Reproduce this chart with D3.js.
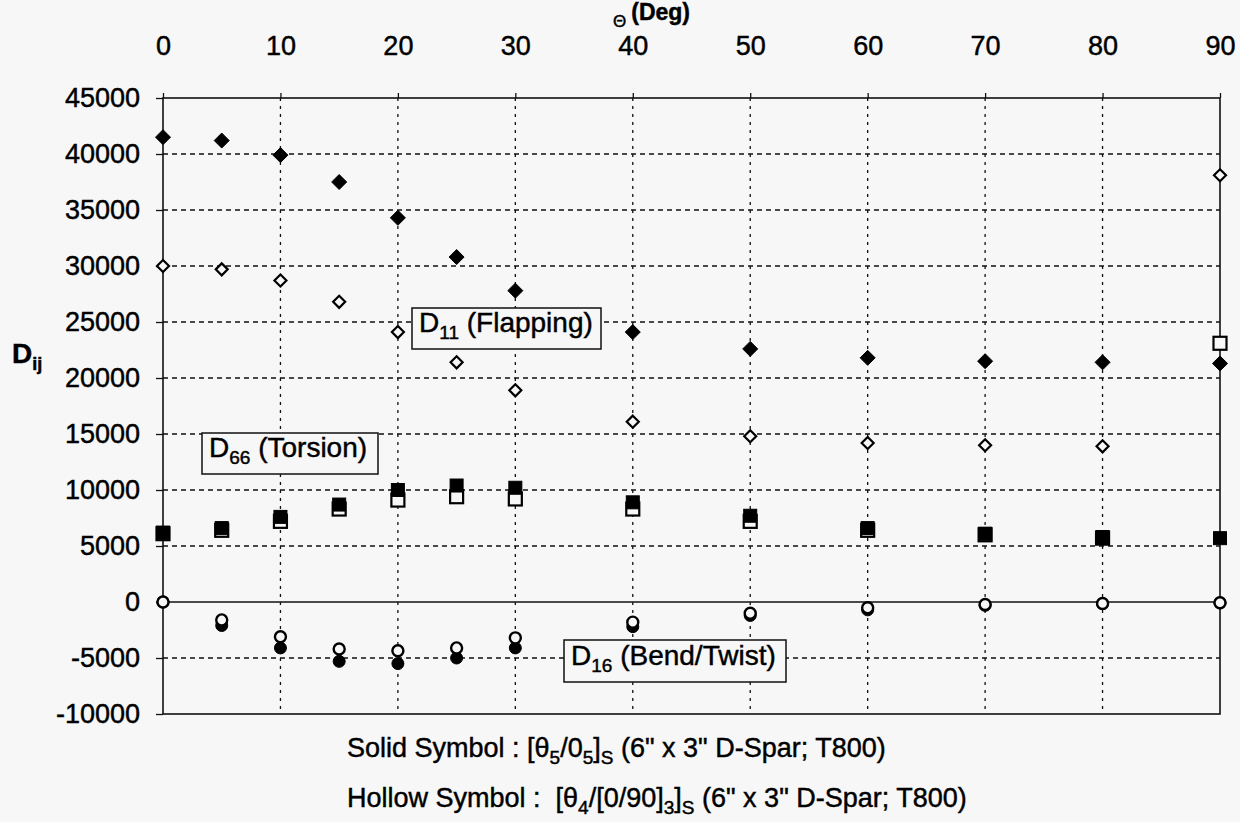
<!DOCTYPE html>
<html>
<head>
<meta charset="utf-8">
<script src="https://cdn.jsdelivr.net/npm/d3@7"></script>
<style>
  html, body { margin: 0; padding: 0; background: #f7f7f7; }
  svg { display: block; font-family: "Liberation Sans", Arial, sans-serif; }
  svg text { white-space: pre; stroke: #000; stroke-width: 0.45px; }
</style>
</head>
<body>
<svg id="chart" width="1240" height="822"></svg>
<script>
// Ply angle (degrees)
const theta = [0, 5, 10, 15, 20, 25, 30, 40, 50, 60, 70, 80, 90];

// Solid symbols: [θ5/05]S layup
const d11Solid = [41500, 41200, 39900, 37500, 34300, 30800, 27800, 24100, 22600, 21800, 21500, 21400, 21300];
const d66Solid = [6200, 6600, 7600, 8700, 10000, 10400, 10200, 8900, 7700, 6600, 6100, 5800, 5700];
const d16Solid = [0, -2100, -4100, -5300, -5500, -5000, -4100, -2200, -1200, -700, -300, -150, -80];

// Hollow symbols: [θ4/[0/90]3]S layup
const d11Hollow = [30000, 29700, 28700, 26800, 24100, 21400, 18900, 16100, 14800, 14200, 14000, 13900, 38100];
const d66Hollow = [6100, 6400, 7200, 8300, 9100, 9400, 9200, 8300, 7200, 6400, 6000, 5700, 23100];
const d16Hollow = [0, -1600, -3100, -4200, -4350, -4100, -3200, -1800, -1000, -520, -220, -130, -70];

const xTicks = [0, 10, 20, 30, 40, 50, 60, 70, 80, 90];
const yTicks = [-10000, -5000, 0, 5000, 10000, 15000, 20000, 25000, 30000, 35000, 40000, 45000];

const BG = "#f7f7f7";
const svg = d3.select("#chart");
svg.append("rect").attr("width", 1240).attr("height", 822).attr("fill", BG);

const plot = { left: 163, right: 1220, top: 98, bottom: 714 };
const x = d3.scaleLinear().domain([0, 90]).range([plot.left, plot.right]);
const y = d3.scaleLinear().domain([-10000, 45000]).range([plot.bottom, plot.top]);

// Grid lines
const grid = svg.append("g").attr("stroke", "#111").attr("stroke-width", 1.3);
grid.selectAll("line.h").data(yTicks.filter(v => v !== 0 && v !== 45000 && v !== -10000)).enter()
  .append("line").attr("class", "h")
  .attr("x1", plot.left).attr("x2", plot.right)
  .attr("y1", d => y(d)).attr("y2", d => y(d))
  .attr("stroke-dasharray", "5,4");
grid.selectAll("line.v").data(xTicks.filter(v => v !== 0 && v !== 90)).enter()
  .append("line").attr("class", "v")
  .attr("y1", plot.top).attr("y2", plot.bottom)
  .attr("x1", d => x(d)).attr("x2", d => x(d))
  .attr("stroke-dasharray", "3,5");

// Zero line and frame
svg.append("line").attr("x1", plot.left).attr("x2", plot.right)
  .attr("y1", y(0)).attr("y2", y(0)).attr("stroke", "#111").attr("stroke-width", 1.6);
svg.append("rect").attr("x", plot.left).attr("y", plot.top)
  .attr("width", plot.right - plot.left).attr("height", plot.bottom - plot.top)
  .attr("fill", "none").attr("stroke", "#111").attr("stroke-width", 1.6);

const plain = d => String(d);

// Left axis
const yAxis = d3.axisLeft(y).tickValues(yTicks).tickSize(7).tickPadding(16).tickFormat(plain);
const gy = svg.append("g").attr("transform", `translate(${plot.left},0)`).call(yAxis);
gy.select(".domain").remove();
gy.selectAll(".tick line").attr("stroke", "#111").attr("stroke-width", 1.3);
gy.selectAll(".tick text").attr("font-size", 27).attr("fill", "#000");

// Top axis
const xAxis = d3.axisTop(x).tickValues(xTicks).tickSize(5).tickPadding(38).tickFormat(plain);
const gx = svg.append("g").attr("transform", `translate(0,${plot.top})`).call(xAxis);
gx.select(".domain").remove();
gx.selectAll(".tick line").attr("stroke", "#111").attr("stroke-width", 1.3);
gx.selectAll(".tick text").attr("font-size", 27).attr("fill", "#000");

// Axis titles
const tTitle = svg.append("text").attr("x", 613).attr("y", 27).attr("fill", "#000");
tTitle.append("tspan").attr("font-size", 17).text("Θ");
tTitle.append("tspan").attr("font-size", 23).attr("font-weight", "bold").attr("dx", 5).attr("dy", -7).text("(Deg)");

const yTitle = svg.append("text").attr("x", 12).attr("y", 363).attr("fill", "#000").attr("font-weight", "bold");
yTitle.append("tspan").attr("font-size", 28).text("D");
yTitle.append("tspan").attr("font-size", 18).attr("dy", 7).text("ij");

// Markers
const pts = (vals) => theta.map((t, i) => ({ t, v: vals[i] }));
function squares(vals, filled) {
  const s = 13;
  svg.append("g").selectAll("rect").data(pts(vals)).enter().append("rect")
    .attr("x", d => x(d.t) - s / 2).attr("y", d => y(d.v) - s / 2)
    .attr("width", s).attr("height", s)
    .attr("fill", filled ? "#000" : BG).attr("stroke", "#000").attr("stroke-width", filled ? 1 : 2.2);
}
function circles(vals, filled) {
  svg.append("g").selectAll("circle").data(pts(vals)).enter().append("circle")
    .attr("cx", d => x(d.t)).attr("cy", d => y(d.v)).attr("r", filled ? 6 : 5.5)
    .attr("fill", filled ? "#000" : BG).attr("stroke", "#000").attr("stroke-width", filled ? 1 : 2.4);
}
function diamonds(vals, filled) {
  const r = filled ? 7.5 : 6;
  svg.append("g").selectAll("path").data(pts(vals)).enter().append("path")
    .attr("d", d => `M${x(d.t)},${y(d.v) - r}L${x(d.t) + r},${y(d.v)}L${x(d.t)},${y(d.v) + r}L${x(d.t) - r},${y(d.v)}Z`)
    .attr("fill", filled ? "#000" : BG).attr("stroke", "#000").attr("stroke-width", filled ? 1 : 2.2);
}

squares(d66Hollow, false);
squares(d66Solid, true);
circles(d16Solid, true);
circles(d16Hollow, false);
diamonds(d11Hollow, false);
diamonds(d11Solid, true);

// Series labels
function boxLabel(bx, by, bw, bh, main, sub, rest) {
  const g = svg.append("g");
  g.append("rect").attr("x", bx).attr("y", by).attr("width", bw).attr("height", bh)
    .attr("fill", BG).attr("stroke", "#111").attr("stroke-width", 1.5);
  const t = g.append("text").attr("x", bx + 7).attr("y", by + bh - 17).attr("font-size", 28).attr("fill", "#000");
  t.append("tspan").text(main);
  t.append("tspan").attr("font-size", 19).attr("dy", 7).text(sub);
  t.append("tspan").attr("dy", -7).text(" " + rest);
}
boxLabel(412, 308, 189, 41, "D", "11", "(Flapping)");
boxLabel(202, 433, 176, 41, "D", "66", "(Torsion)");
boxLabel(564, 640, 222, 42, "D", "16", "(Bend/Twist)");

// Layup notes
function note(yb, parts) {
  const t = svg.append("text").attr("x", 347).attr("y", yb).attr("font-size", 27).attr("fill", "#000");
  parts.forEach(p => {
    const s = t.append("tspan").text(p.s);
    if (p.sub) s.attr("font-size", 19).attr("dy", 7);
    if (p.up) s.attr("dy", -7);
  });
}
note(757, [
  { s: "Solid Symbol : [θ" }, { s: "5", sub: true }, { s: "/0", up: true }, { s: "5", sub: true },
  { s: "]", up: true }, { s: "S", sub: true }, { s: " (6\" x 3\" D-Spar; T800)", up: true }
]);
note(807, [
  { s: "Hollow Symbol :  [θ" }, { s: "4", sub: true }, { s: "/[0/90]", up: true }, { s: "3", sub: true },
  { s: "]", up: true }, { s: "S", sub: true }, { s: " (6\" x 3\" D-Spar; T800)", up: true }
]);
</script>
</body>
</html>
